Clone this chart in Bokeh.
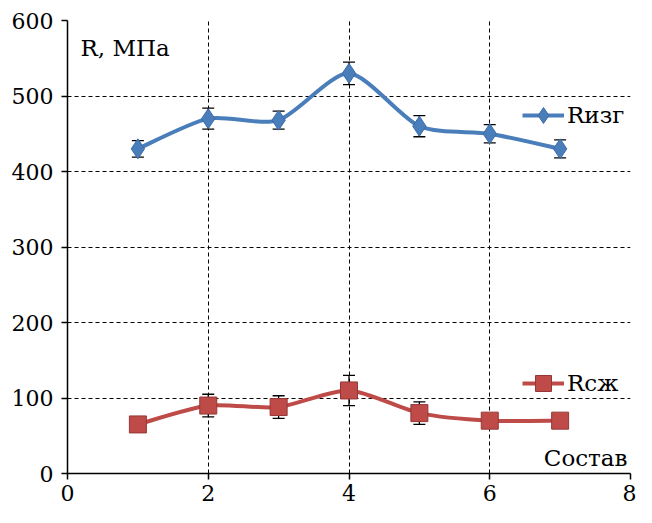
from bokeh.plotting import figure
from bokeh.models import (ColumnDataSource, Whisker, Legend, LegendItem, Label,
                          FixedTicker, Range1d)
from bokeh.embed import file_html
from bokeh.resources import INLINE

# ---- data ----
sostav = [1, 2, 3, 4, 5, 6, 7]
r_izg = [430, 470, 468, 530, 460, 450, 430]
r_izg_err = [11, 14, 12, 15, 14, 12, 12]
r_szh = [65, 90, 88, 110, 80, 70, 70]
r_szh_err = [5, 15, 15, 20, 15, 5, 3]
x_ticks = [0, 2, 4, 6, 8]
y_ticks = [0, 100, 200, 300, 400, 500, 600]
series_names = ["Rизг", "Rсж"]
y_title = "R, МПа"
x_title = "Состав"

FONT = "DejaVu Serif"
BLUE = "#4a7ebb"
BLUE_D = "#3b6ba5"
RED = "#be4b48"
RED_D = "#953735"

W, H = 636, 507
BL, BR, BT, BB = 67, 6, 20, 34

p = figure(width=W, height=H, output_backend="svg", toolbar_location=None,
           x_range=Range1d(0, 8), y_range=Range1d(0, 600),
           min_border_left=BL, min_border_right=BR, min_border_top=BT,
           min_border_bottom=BB)
p.outline_line_color = None
p.background_fill_color = "white"

for ax in (p.xaxis[0], p.yaxis[0]):
    ax.axis_line_color = "black"
    ax.axis_line_width = 1.5
    ax.major_tick_line_color = "black"
    ax.major_tick_line_width = 1.5
    ax.major_tick_out = 6
    ax.major_tick_in = 0
    ax.minor_tick_line_color = None
    ax.major_label_text_font = FONT
    ax.major_label_text_font_size = "22px"
    ax.major_label_text_color = "black"
p.xaxis[0].ticker = FixedTicker(ticks=x_ticks)
p.yaxis[0].ticker = FixedTicker(ticks=y_ticks)
p.xaxis[0].major_label_standoff = 5
p.yaxis[0].major_label_standoff = 8

for g in (p.xgrid[0], p.ygrid[0]):
    g.grid_line_color = "black"
    g.grid_line_dash = "4 3"
    g.grid_line_width = 1

TENSION = 1 / 8


def smooth(xs, ys):
    n = len(xs)
    P = list(zip(xs, ys))
    out = dict(x0=[], y0=[], x1=[], y1=[], cx0=[], cy0=[], cx1=[], cy1=[])
    for i in range(n - 1):
        pm = P[i - 1] if i > 0 else P[i]
        p0 = P[i]
        p1 = P[i + 1]
        p2 = P[i + 2] if i + 2 < n else P[i + 1]
        out["x0"].append(p0[0]); out["y0"].append(p0[1])
        out["x1"].append(p1[0]); out["y1"].append(p1[1])
        out["cx0"].append(p0[0] + (p1[0] - pm[0]) * TENSION)
        out["cy0"].append(p0[1] + (p1[1] - pm[1]) * TENSION)
        out["cx1"].append(p1[0] - (p2[0] - p0[0]) * TENSION)
        out["cy1"].append(p1[1] - (p2[1] - p0[1]) * TENSION)
    return ColumnDataSource(out)


def series(ys, errs, color, dark, marker, size):
    src = ColumnDataSource(dict(x=sostav, y=ys,
                                lo=[v - e for v, e in zip(ys, errs)],
                                hi=[v + e for v, e in zip(ys, errs)]))
    w = Whisker(source=src, base="x", lower="lo", upper="hi",
                line_color="black", line_width=1.3)
    for h in (w.upper_head, w.lower_head):
        h.size = 12
        h.line_color = "black"
        h.line_width = 1.3
    p.add_layout(w)
    br = p.bezier(x0="x0", y0="y0", x1="x1", y1="y1", cx0="cx0", cy0="cy0",
                  cx1="cx1", cy1="cy1", source=smooth(sostav, ys),
                  line_color=color, line_width=4)
    sr = p.scatter("x", "y", source=src, marker=marker, size=size,
                   fill_color=color, line_color=dark, line_width=1)
    return [br, sr]


r1 = series(r_izg, r_izg_err, BLUE, BLUE_D, "diamond", 20)
r2 = series(r_szh, r_szh_err, RED, RED_D, "square", 17)

for rs, name, loc in ((r1, series_names[0], (455, 338)),
                      (r2, series_names[1], (455, 70))):
    lg = Legend(items=[LegendItem(label=name, renderers=rs, index=0)], location=loc,
                padding=0, margin=0, spacing=0, glyph_width=42,
                glyph_height=40, label_height=40, label_standoff=3,
                label_text_font=FONT, label_text_font_size="23px",
                label_text_color="black", background_fill_alpha=0,
                border_line_color=None)
    p.add_layout(lg)

p.add_layout(Label(x=13, y=413, x_units="screen", y_units="screen",
                   text=y_title, text_font=FONT, text_font_size="23px",
                   text_color="black"))
p.add_layout(Label(x=W - BL - BR - 3, y=3, x_units="screen", y_units="screen",
                   text=x_title, text_font=FONT, text_font_size="23px",
                   text_color="black", text_align="right"))

open("out.html", "w").write(file_html(p, INLINE))
